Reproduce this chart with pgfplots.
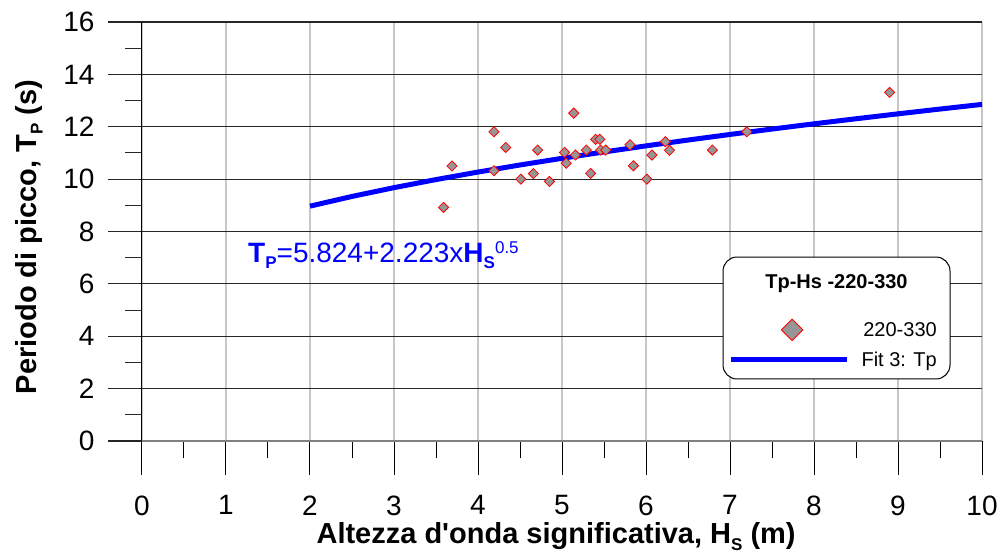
\documentclass[border=0pt]{standalone}
\usepackage{fontspec}
\setmainfont{Liberation Sans}[Ligatures=TeXOff]
\usepackage{pgfplots}
\pgfplotsset{compat=1.18}
\definecolor{fitblue}{RGB}{0,0,255}
\definecolor{mkgray}{RGB}{150,150,150}
\definecolor{mkred}{RGB}{255,0,0}
\newcommand\bigf{\fontsize{28bp}{30bp}\selectfont}
\newcommand\labf{\fontsize{29bp}{31bp}\selectfont}
\newcommand\legf{\fontsize{20bp}{22bp}\selectfont}
\newcommand\subsc[1]{\raisebox{-0.22em}{\fontsize{17bp}{17bp}\selectfont #1}}
\begin{document}
\begin{tikzpicture}
\path[use as bounding box] (-142bp,-112bp) rectangle (858bp,441bp);
\begin{axis}[
  scale only axis, width=840bp, height=419bp,
  xmin=0, xmax=10, ymin=0, ymax=16,
  axis x line*=bottom, axis y line*=left,
  x axis line style={-, draw=black!50, line width=1.6bp},
  y axis line style={-, draw=black, line width=1bp},
  xtick={0,1,...,10}, ytick={0,2,...,16},
  minor x tick num=1, minor y tick num=1,
  tick align=outside, major tick length=34bp, minor tick length=17bp,
  xmajorgrids, ymajorgrids,
  x grid style={draw=black!22, line width=1.4bp},
  y grid style={draw=black!85, line width=1.1bp},
  x tick style={draw=black, line width=1bp},
  y tick style={draw=black!85, line width=1.1bp},
  ticklabel style={font=\bigf},
  yticklabel style={xshift=-10bp},
  xticklabel style={yshift=-17bp},
  /pgf/number format/assume math mode=true,
  every axis y label/.style={at={(axis description cs:-0.1345,0.487)}, rotate=90, anchor=center, font=\labf\bfseries},
  every axis x label/.style={at={(axis description cs:0.493,-0.2458)}, anchor=base, font=\labf\bfseries},
  xlabel={Altezza d'onda significativa, H\subsc{S} (m)},
  ylabel={Periodo di picco, T\subsc{P} (s)},
  legend style={at={(rel axis cs:0.9464,0.2912)}, anchor=north east,
    draw=none, fill=none, inner sep=0bp, column sep=12bp, row sep=10bp,
    nodes={inner sep=0bp, font=\legf, text height=16bp, text depth=2bp}},
  legend cell align=right,
]
\addlegendimage{legend image code/.code={
    \path[draw=none] (0bp,0bp) -- (116bp,0bp);
    \draw[only marks, mark=square*, mark size=7.6bp,
      mark options={rotate=45, fill=mkgray, draw=mkred, line width=0.9bp}]
      plot coordinates {(61bp,0bp)};}}
\addlegendimage{legend image code/.code={
    \draw[fitblue, line width=5bp] (0bp,0bp) -- (116bp,0bp);}}
\legend{220-330, Fit 3: Tp}

% legend frame and title
\draw[draw=black, line width=1bp, rounded corners=14bp, fill=white]
  (rel axis cs:0.6917,0.4391) rectangle (rel axis cs:0.9619,0.1480);
\node[anchor=base, font=\legf\bfseries, inner sep=0pt] at (rel axis cs:0.8268,0.3628) {Tp-Hs -220-330};

% fit curve Tp = 5.824 + 2.223*Hs^0.5 (tabulated)
\addplot[fitblue, line width=5bp, forget plot] coordinates {
 (2,8.968) (2.5,9.339) (3,9.674) (3.5,9.983) (4,10.270) (4.5,10.540)
 (5,10.795) (5.5,11.037) (6,11.269) (6.5,11.492) (7,11.706) (7.5,11.912)
 (8,12.112) (8.5,12.305) (9,12.493) (9.5,12.676) (10,12.854)};

\addplot[only marks, mark=square*, mark size=3.6bp,
  mark options={rotate=45, fill=mkgray, draw=mkred, line width=0.8bp}, forget plot]
  coordinates {
 (3.59,8.92) (3.69,10.50) (4.19,11.81) (4.19,10.32) (4.33,11.21)
 (4.51,10.00) (4.66,10.21) (4.71,11.11) (4.85,9.91) (5.03,11.02)
 (5.05,10.61) (5.14,12.52) (5.16,10.92) (5.29,11.11) (5.34,10.22)
 (5.40,11.52) (5.45,11.52) (5.46,11.11) (5.52,11.11) (5.81,11.31)
 (5.85,10.51) (6.01,10.00) (6.07,10.92) (6.23,11.43) (6.28,11.10)
 (6.79,11.11) (7.20,11.81) (8.90,13.31)};

\node[anchor=base west, font=\bigf, text=fitblue, inner sep=0pt] at (axis cs:1.262,6.83)
  {\textbf{T}\subsc{\bfseries P}=5.824+2.223x\textbf{H}\subsc{\bfseries S}\raisebox{0.3em}{\fontsize{17bp}{17bp}\selectfont 0.5}};
\end{axis}
\end{tikzpicture}
\end{document}
